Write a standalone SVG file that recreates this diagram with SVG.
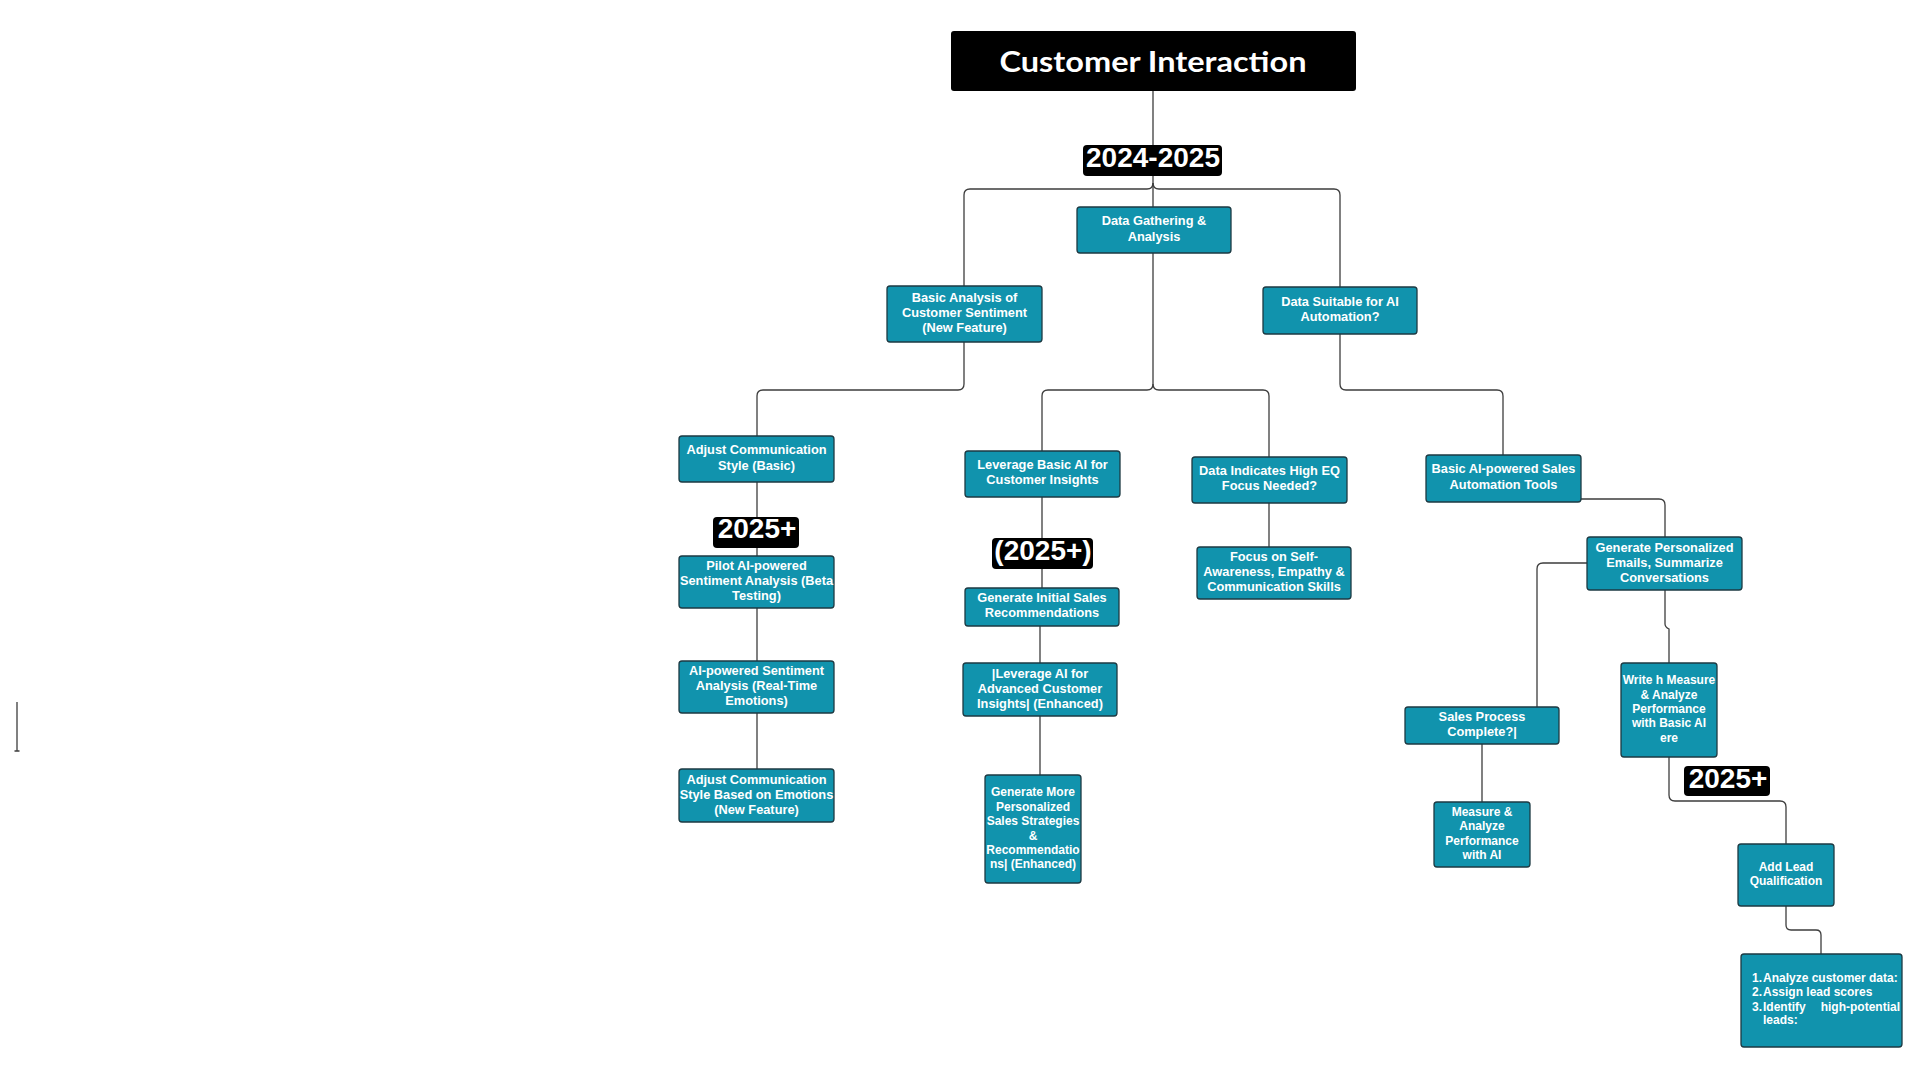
<svg xmlns="http://www.w3.org/2000/svg" width="1920" height="1080" viewBox="0 0 1920 1080">
<style>
.bg{fill:#ffffff}
.node rect{fill:#1193ad;stroke:#1d3a43;stroke-width:1.3}
.node text{font-family:"Liberation Sans",Arial,sans-serif;font-weight:bold;font-size:12.8px;fill:#ffffff;text-anchor:middle}
.node text.s{font-size:12px}
.conn path{fill:none;stroke:#3d3d3d;stroke-width:1.3}
.lbl rect{fill:#000000}
.lbl text{font-family:"Liberation Sans",Arial,sans-serif;font-weight:bold;font-size:28px;fill:#ffffff;text-anchor:middle}
.title rect{fill:#000000}
.title text{font-family:Lato,"Open Sans",sans-serif;font-weight:bold;font-size:29px;fill:#ffffff;text-anchor:middle}
</style>
<rect class="bg" x="0" y="0" width="1920" height="1080"/>

<g id="connectors" class="conn">
<path d="M1153,91 V207"/>
<path d="M1153,183 Q1153,189 1147,189 H970 Q964,189 964,195 V286"/>
<path d="M1153,183 Q1153,189 1159,189 H1334 Q1340,189 1340,195 V287"/>
<path d="M964,342 V384 Q964,390 958,390 H763 Q757,390 757,396 V436"/>
<path d="M1153,253 V384 Q1153,390 1147,390 H1048 Q1042,390 1042,396 V451"/>
<path d="M1153,384 Q1153,390 1159,390 H1263 Q1269,390 1269,396 V457"/>
<path d="M1340,334 V384 Q1340,390 1346,390 H1497 Q1503,390 1503,396 V455"/>
<path d="M757,482 V556"/>
<path d="M757,608 V661"/>
<path d="M757,713 V769"/>
<path d="M1042,497 V588"/>
<path d="M1040,626 V663"/>
<path d="M1040,716 V775"/>
<path d="M1269,503 V547"/>
<path d="M1581,499 H1659 Q1665,499 1665,505 V537"/>
<path d="M1587,563 H1543 Q1537,563 1537,569 V707"/>
<path d="M1665,590 V624 Q1665,627 1669,629 V663"/>
<path d="M1482,744 V802"/>
<path d="M1669,757 V795 Q1669,801 1675,801 H1780 Q1786,801 1786,807 V844"/>
<path d="M1786,906 V925 Q1786,930 1791,930 H1816 Q1821,930 1821,935 V954"/>
<path d="M17,702 V751 M14.5,751 H19.5"/>
</g>

<g id="title" class="title">
<rect x="951" y="31" width="405" height="60" rx="3"/>
<text x="1153" y="72" textLength="307" lengthAdjust="spacingAndGlyphs">Customer Interaction</text>
</g>

<g id="label-2024-2025" class="lbl">
<rect x="1083" y="145" width="139" height="31" rx="4"/>
<text x="1153" y="167">2024-2025</text>
</g>

<g id="n-data-gathering" class="node">
<rect x="1077" y="207" width="154" height="46" rx="3"/>
<text x="1154" y="225">Data Gathering &amp;</text>
<text x="1154" y="241">Analysis</text>
</g>

<g id="n-basic-analysis" class="node">
<rect x="887" y="286" width="155" height="56" rx="3"/>
<text x="964.5" y="302">Basic Analysis of</text>
<text x="964.5" y="317">Customer Sentiment</text>
<text x="964.5" y="332">(New Feature)</text>
</g>

<g id="n-data-suitable" class="node">
<rect x="1263" y="287" width="154" height="47" rx="3"/>
<text x="1340" y="306">Data Suitable for AI</text>
<text x="1340" y="321">Automation?</text>
</g>

<g id="n-adjust-basic" class="node">
<rect x="679" y="436" width="155" height="46" rx="3"/>
<text x="756.5" y="454">Adjust Communication</text>
<text x="756.5" y="470">Style (Basic)</text>
</g>

<g id="label-2025-a" class="lbl">
<rect x="713" y="517" width="86" height="31" rx="4"/>
<text x="757" y="538">2025+</text>
</g>

<g id="n-pilot" class="node">
<rect x="679" y="556" width="155" height="52" rx="3"/>
<text x="756.5" y="569.5">Pilot AI-powered</text>
<text x="756.5" y="584.5">Sentiment Analysis (Beta</text>
<text x="756.5" y="600">Testing)</text>
</g>

<g id="n-ai-sentiment" class="node">
<rect x="679" y="661" width="155" height="52" rx="3"/>
<text x="756.5" y="675">AI-powered Sentiment</text>
<text x="756.5" y="690">Analysis (Real-Time</text>
<text x="756.5" y="705">Emotions)</text>
</g>

<g id="n-adjust-emotions" class="node">
<rect x="679" y="769" width="155" height="53" rx="3"/>
<text x="756.5" y="784">Adjust Communication</text>
<text x="756.5" y="799">Style Based on Emotions</text>
<text x="756.5" y="814">(New Feature)</text>
</g>

<g id="n-leverage-basic" class="node">
<rect x="965" y="451" width="155" height="46" rx="3"/>
<text x="1042.5" y="469">Leverage Basic AI for</text>
<text x="1042.5" y="484">Customer Insights</text>
</g>

<g id="label-2025-b" class="lbl">
<rect x="992" y="538" width="101" height="31" rx="4"/>
<text x="1043" y="560">(2025+)</text>
</g>

<g id="n-generate-initial" class="node">
<rect x="965" y="588" width="154" height="38" rx="3"/>
<text x="1042" y="602">Generate Initial Sales</text>
<text x="1042" y="617">Recommendations</text>
</g>

<g id="n-leverage-advanced" class="node">
<rect x="963" y="663" width="154" height="53" rx="3"/>
<text x="1040" y="678">|Leverage AI for</text>
<text x="1040" y="693">Advanced Customer</text>
<text x="1040" y="708">Insights| (Enhanced)</text>
</g>

<g id="n-generate-more" class="node">
<rect x="985" y="775" width="96" height="108" rx="3"/>
<text class="s" x="1033" y="796">Generate More</text>
<text class="s" x="1033" y="810.5">Personalized</text>
<text class="s" x="1033" y="825">Sales Strategies</text>
<text class="s" x="1033" y="839.5">&amp;</text>
<text class="s" x="1033" y="853.5">Recommendatio</text>
<text class="s" x="1033" y="868">ns| (Enhanced)</text>
</g>

<g id="n-high-eq" class="node">
<rect x="1192" y="457" width="155" height="46" rx="3"/>
<text x="1269.5" y="475">Data Indicates High EQ</text>
<text x="1269.5" y="490">Focus Needed?</text>
</g>

<g id="n-focus-self" class="node">
<rect x="1197" y="547" width="154" height="52" rx="3"/>
<text x="1274" y="561">Focus on Self-</text>
<text x="1274" y="576">Awareness, Empathy &amp;</text>
<text x="1274" y="591">Communication Skills</text>
</g>

<g id="n-basic-sales" class="node">
<rect x="1426" y="455" width="155" height="47" rx="3"/>
<text x="1503.5" y="473">Basic AI-powered Sales</text>
<text x="1503.5" y="488.5">Automation Tools</text>
</g>

<g id="n-generate-personalized" class="node">
<rect x="1587" y="537" width="155" height="53" rx="3"/>
<text x="1664.5" y="552">Generate Personalized</text>
<text x="1664.5" y="567">Emails, Summarize</text>
<text x="1664.5" y="582">Conversations</text>
</g>

<g id="n-sales-complete" class="node">
<rect x="1405" y="707" width="154" height="37" rx="3"/>
<text x="1482" y="721">Sales Process</text>
<text x="1482" y="736">Complete?|</text>
</g>

<g id="n-measure-ai" class="node">
<rect x="1434" y="802" width="96" height="65" rx="3"/>
<text class="s" x="1482" y="816">Measure &amp;</text>
<text class="s" x="1482" y="830">Analyze</text>
<text class="s" x="1482" y="845">Performance</text>
<text class="s" x="1482" y="859">with AI</text>
</g>

<g id="n-write-measure" class="node">
<rect x="1621" y="663" width="96" height="94" rx="3"/>
<text class="s" x="1669" y="684">Write h Measure</text>
<text class="s" x="1669" y="699">&amp; Analyze</text>
<text class="s" x="1669" y="713">Performance</text>
<text class="s" x="1669" y="727">with Basic AI</text>
<text class="s" x="1669" y="742">ere</text>
</g>

<g id="label-2025-c" class="lbl">
<rect x="1684" y="766" width="86" height="30" rx="4"/>
<text x="1728" y="788">2025+</text>
</g>

<g id="n-add-lead" class="node">
<rect x="1738" y="844" width="96" height="62" rx="3"/>
<text class="s" x="1786" y="871">Add Lead</text>
<text class="s" x="1786" y="885">Qualification</text>
</g>

<g id="n-lead-steps" class="node">
<rect x="1741" y="954" width="161" height="93" rx="3"/>
<text class="s" x="1752" y="982" style="text-anchor:start">1.</text>
<text class="s" x="1763" y="982" style="text-anchor:start">Analyze customer data:</text>
<text class="s" x="1752" y="996" style="text-anchor:start">2.</text>
<text class="s" x="1763" y="996" style="text-anchor:start">Assign lead scores</text>
<text class="s" x="1752" y="1011" style="text-anchor:start">3.</text>
<text class="s" x="1763" y="1011" style="text-anchor:start">Identify</text>
<text class="s" x="1900" y="1011" style="text-anchor:end">high-potential</text>
<text class="s" x="1763" y="1024" style="text-anchor:start">leads:</text>
</g>
</svg>
